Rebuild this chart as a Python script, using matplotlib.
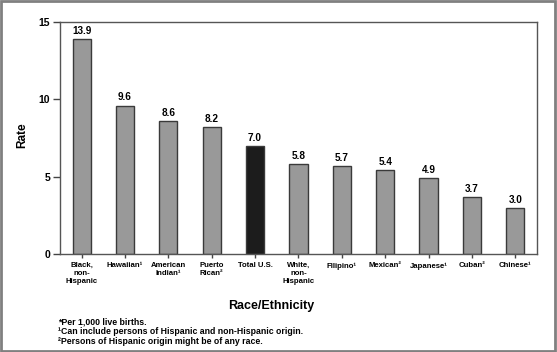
import matplotlib.pyplot as plt
from matplotlib.patches import Rectangle

plt.rcParams['font.family'] = ['Liberation Sans', 'DejaVu Sans']
plt.rcParams['font.weight'] = 'bold'

groups = ["Black,\nnon-\nHispanic", "Hawaiian\u00b9", "American\nIndian\u00b9", "Puerto\nRican\u00b2",
          "Total U.S.", "White,\nnon-\nHispanic", "Filipino\u00b9", "Mexican\u00b2",
          "Japanese\u00b9", "Cuban\u00b2", "Chinese\u00b9"]
rates = [13.9, 9.6, 8.6, 8.2, 7.0, 5.8, 5.7, 5.4, 4.9, 3.7, 3.0]
footnotes = ["*Per 1,000 live births.",
             "\u00b9Can include persons of Hispanic and non-Hispanic origin.",
             "\u00b2Persons of Hispanic origin might be of any race."]

fig = plt.figure(figsize=(5.57, 3.52), dpi=100)
ax = fig.add_axes([0.1077, 0.2784, 0.8563, 0.6591])

colors = ["#1c1c1c" if g == "Total U.S." else "#999999" for g in groups]
x = range(len(groups))
ax.bar(x, rates, width=0.42, color=colors, edgecolor="#3a3a3a", linewidth=1)
for i, r in enumerate(rates):
    ax.text(i, r + 0.2, f"{r:.1f}", ha="center", va="bottom", fontsize=7.2, fontweight="bold")

ax.set_xlim(-0.5, len(groups) - 0.5)
ax.set_ylim(0, 15)
ax.set_yticks([0, 5, 10, 15])
ax.set_xticks(list(x))
ax.set_xticklabels(groups, fontsize=5.6, fontweight="bold", linespacing=1.2)
ax.tick_params(axis="y", labelsize=7.5, length=5, width=1, color="#444444", pad=2)
ax.tick_params(axis="x", length=3, width=1, color="#444444", pad=3)
for s in ax.spines.values():
    s.set_color("#555555")
    s.set_linewidth(1)

fig.text(0.04, 0.616, "Rate", rotation=90, ha="center", va="center", fontsize=8.5, fontweight="bold")
fig.text(0.4865, 0.131, "Race/Ethnicity", ha="center", va="center", fontsize=9, fontweight="bold")
for k, line in enumerate(footnotes):
    fig.text(0.104, 0.085 - k * 0.027, line, ha="left", va="center", fontsize=6.3, fontweight="bold")

fig.patches.append(Rectangle((0.002, 0.003), 0.995, 0.994, transform=fig.transFigure,
                             fill=False, edgecolor="#808080", linewidth=2))

fig.savefig("out.png", dpi=100)
